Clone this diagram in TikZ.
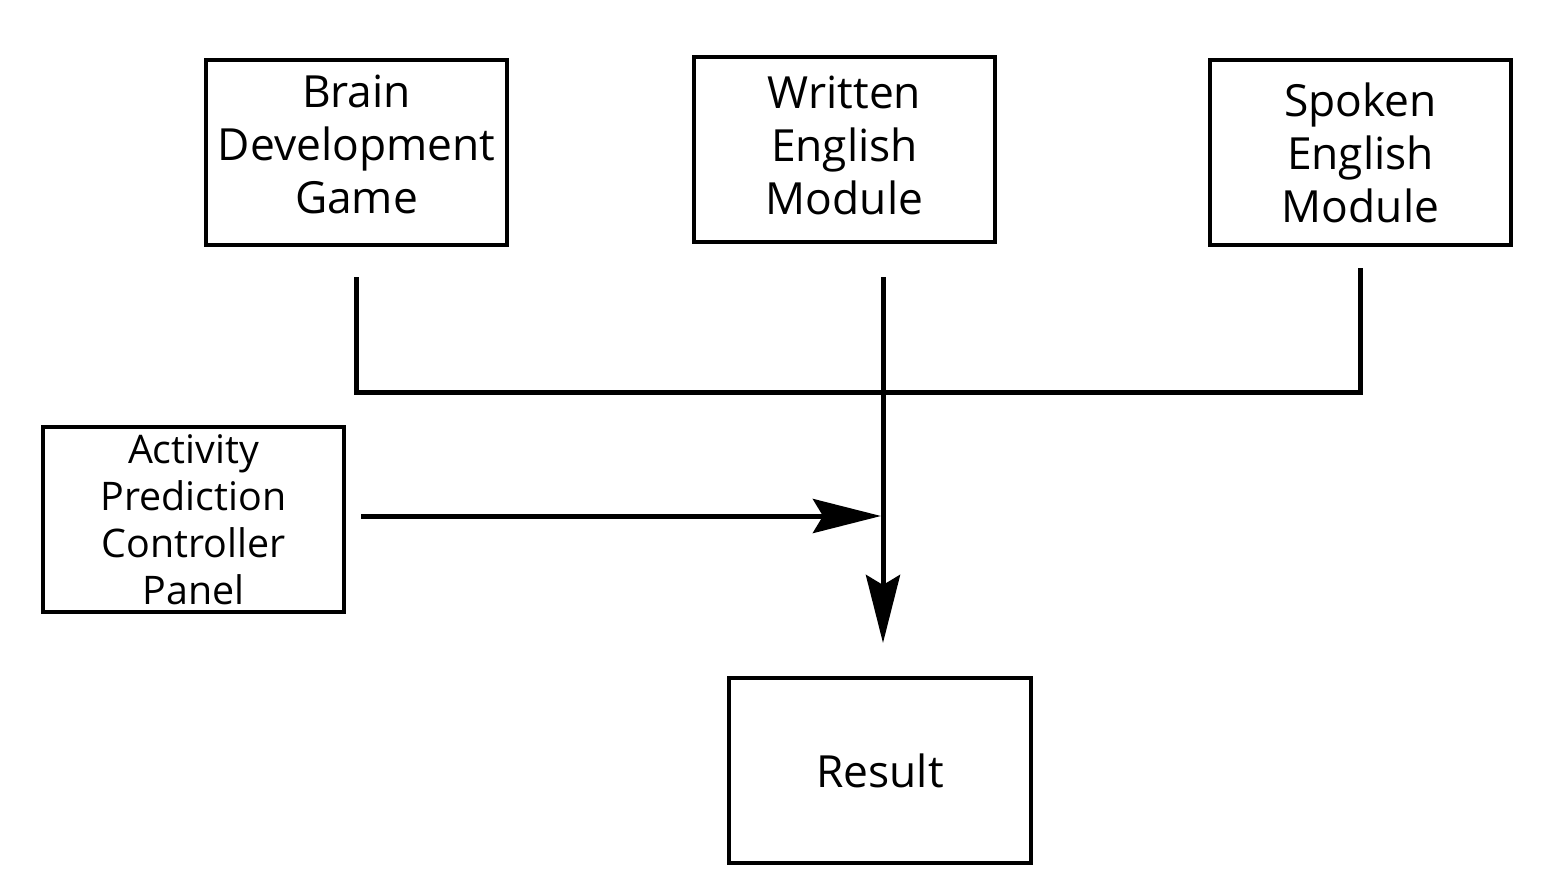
\documentclass[tikz,border=0pt]{standalone}
\usepackage{fontspec}
\setmainfont{Open Sans}
\usetikzlibrary{arrows.meta}
\begin{document}
\begin{tikzpicture}[x=0.01cm,y=-0.01cm,
  box/.style={draw,line width=0.04cm,minimum width=3.01cm,minimum height=1.85cm,inner sep=0pt,align=center,font=\fontsize{12.6}{15.1}\selectfont},
  conn/.style={line width=0.05cm},
  tip/.style={-{Stealth[length=0.68cm,width=0.34cm,inset=0.1cm]}}]
\useasboundingbox (0,0) rectangle (1559,893);
\node[box,text depth=0.16cm] (brain) at (356.5,152.5) {Brain\\Development\\Game};
\node[box,text depth=0.08cm] (written) at (844.5,149.5) {Written\\English\\Module};
\node[box] (spoken) at (1360.5,152.5) {Spoken\\English\\Module};
\node[box,font=\fontsize{11.2}{13.4}\selectfont] (activity) at (193.5,519.5) {Activity\\Prediction\\Controller\\Panel};
\node[box] (result) at (880,770.5) {Result};
\coordinate (wtop) at (883,277);
\coordinate (join) at (883,392);
\coordinate (tipdown) at (883,643);
\coordinate (tipright) at (881,516);
\draw[conn] ([yshift=-0.3cm]brain.south) |- (join) -| ([yshift=-0.21cm]spoken.south);
\draw[conn,tip] (wtop) -- (tipdown);
\draw[conn,tip] ([xshift=0.15cm]activity.east |- tipright) -- (tipright);
\end{tikzpicture}
\end{document}
